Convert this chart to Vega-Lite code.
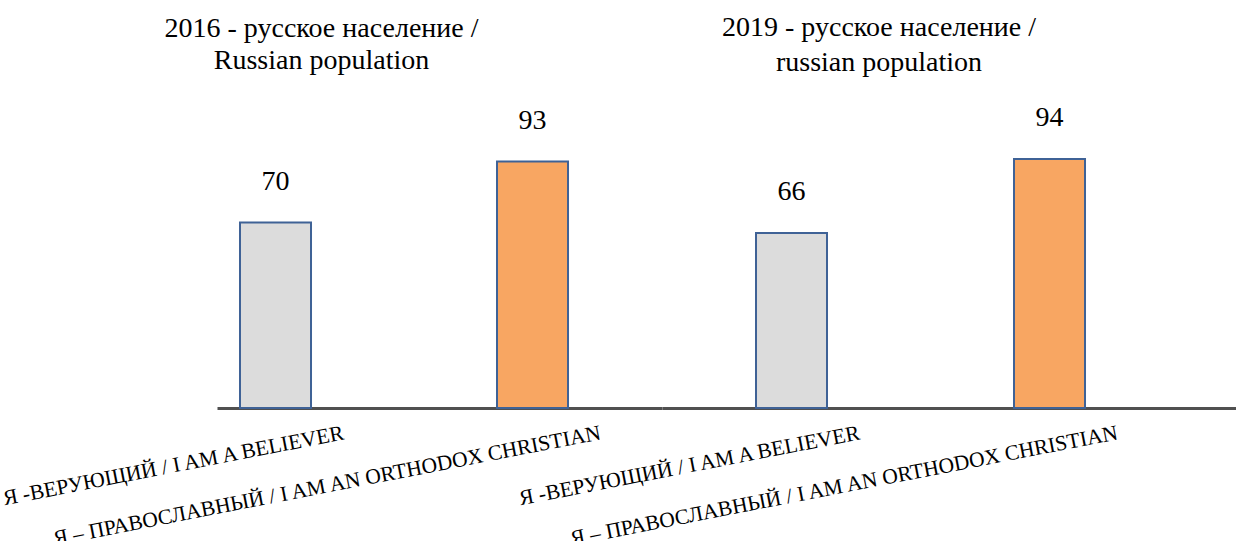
{
  "$schema": "https://vega.github.io/schema/vega-lite/v6.json",
  "padding": {"left": -3, "top": 13, "right": 0, "bottom": 0},
  "background": "white",
  "data": {"values": [
    {"year": "2016", "label": "Я -ВЕРУЮЩИЙ / I AM A BELIEVER", "type": "believer", "value": 70},
    {"year": "2016", "label": "Я – ПРАВОСЛАВНЫЙ / I AM AN ORTHODOX CHRISTIAN", "type": "orthodox", "value": 93},
    {"year": "2019", "label": "Я -ВЕРУЮЩИЙ / I AM A BELIEVER", "type": "believer", "value": 66},
    {"year": "2019", "label": "Я – ПРАВОСЛАВНЫЙ / I AM AN ORTHODOX CHRISTIAN", "type": "orthodox", "value": 94}
  ]},
  "spacing": 0,
  "bounds": "flush",
  "resolve": {"scale": {"x": "independent"}},
  "hconcat": [
    {
      "title": {"text": ["2016 - русское население /", "Russian population"], "dx": -118, "offset": 32},
      "width": 445,
      "height": 265,
      "transform": [{"filter": "datum.year == '2016'"}],
      "encoding": {
        "x": {"field": "label", "type": "nominal", "sort": null,
              "scale": {"paddingInner": 0.7237, "paddingOuter": 0.2276, "align": 0.1966},
              "axis": {"title": null, "labelOffset": 66, "labelPadding": 14, "labelAngle": -11, "labelAlign": "right", "labelBaseline": "top"}},
        "y": {"field": "value", "type": "quantitative", "scale": {"domain": [0, 100], "nice": false}, "axis": null}
      },
      "layer": [
        {"mark": {"type": "bar", "stroke": "#3F6296", "strokeWidth": 2},
         "encoding": {"color": {"field": "type", "type": "nominal", "scale": {"domain": ["believer", "orthodox"], "range": ["#DCDCDC", "#F8A662"]}, "legend": null}}},
        {"mark": {"type": "text", "dy": -41, "baseline": "middle", "font": "Liberation Serif", "fontSize": 28, "color": "black"},
         "encoding": {"text": {"field": "value", "type": "quantitative"}}}
      ]
    },
    {
      "title": {"text": ["2019 - русское население /", "russian population"], "dx": -70, "dy": 5, "lineHeight": 35, "offset": 32},
      "width": 574,
      "height": 265,
      "transform": [{"filter": "datum.year == '2019'"}],
      "encoding": {
        "x": {"field": "label", "type": "nominal", "sort": null,
              "scale": {"paddingInner": 0.7248, "paddingOuter": 0.4748, "align": 0.3837},
              "axis": {"title": null, "labelOffset": 66, "labelPadding": 14, "labelAngle": -11, "labelAlign": "right", "labelBaseline": "top"}},
        "y": {"field": "value", "type": "quantitative", "scale": {"domain": [0, 100], "nice": false}, "axis": null}
      },
      "layer": [
        {"mark": {"type": "bar", "stroke": "#3F6296", "strokeWidth": 2},
         "encoding": {"color": {"field": "type", "type": "nominal", "scale": {"domain": ["believer", "orthodox"], "range": ["#DCDCDC", "#F8A662"]}, "legend": null}}},
        {"mark": {"type": "text", "dy": -41, "baseline": "middle", "font": "Liberation Serif", "fontSize": 28, "color": "black"},
         "encoding": {"text": {"field": "value", "type": "quantitative"}}}
      ]
    }
  ],
  "config": {
    "view": {"stroke": null},
    "title": {"font": "Liberation Serif", "fontSize": 28, "fontWeight": "normal", "color": "black", "lineHeight": 32, "anchor": "middle"},
    "axisX": {
      "domainColor": "#505050", "domainWidth": 3, "ticks": false, "grid": false,
      "labelFont": "Liberation Serif", "labelFontSize": 21.5, "labelColor": "black", "labelLimit": 0, "labelOverlap": false
    }
  }
}
